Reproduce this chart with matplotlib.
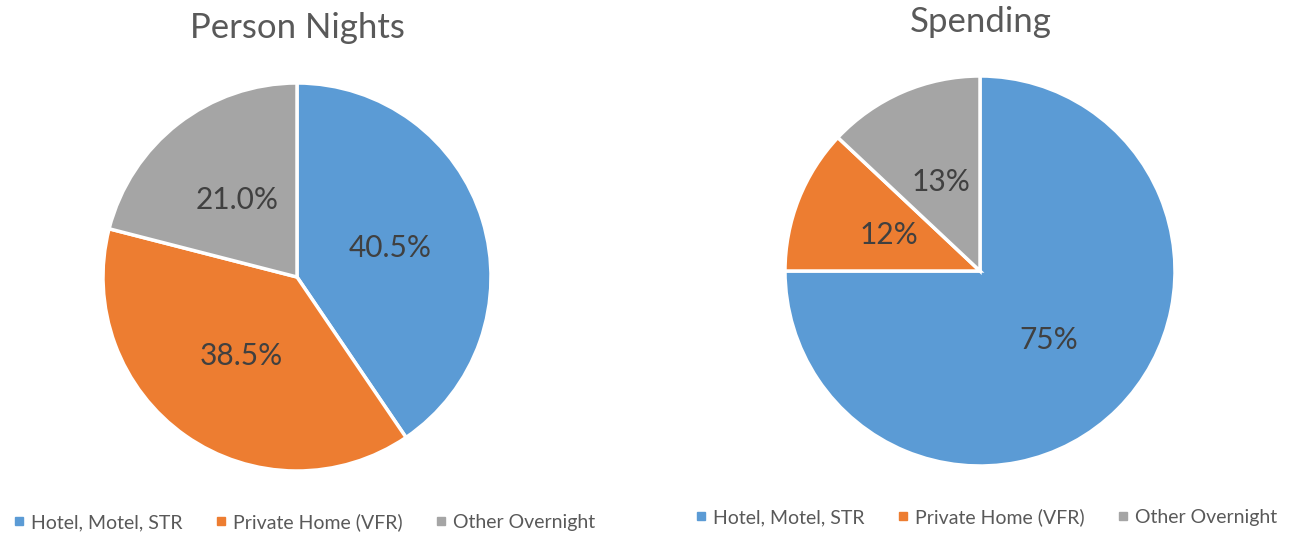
import matplotlib
matplotlib.use("Agg")
import matplotlib.pyplot as plt
from matplotlib.lines import Line2D

# data
categories = ["Hotel, Motel, STR", "Private Home (VFR)", "Other Overnight"]
nights = [40.5, 38.5, 21.0]
spending = [75, 12, 13]
titles = ["Person Nights", "Spending"]
colors = ["#5b9bd5", "#ed7d31", "#a5a5a5"]

plt.rcParams["font.family"] = ["Lato", "DejaVu Sans"]

W, H = 1293, 534
fig = plt.figure(figsize=(W / 100, H / 100), dpi=100)


def pie_axes(cx, cy, r):
    # cx, cy in pixels from top-left
    return fig.add_axes([(cx - r) / W, (H - cy - r) / H, 2 * r / W, 2 * r / H])


panels = [
    (nights, "%.1f%%", (297, 277, 194), (297, 28), (303, 522)),
    (spending, "%.0f%%", (980, 271, 195), (981, 22), (985, 517)),
]

for (vals, fmt, (cx, cy, r), (tx, ty), (lx, ly)), title in zip(panels, titles):
    ax = pie_axes(cx, cy, r)
    wedges, texts, autotexts = ax.pie(
        vals, colors=colors, startangle=90, counterclock=False,
        autopct=fmt, pctdistance=0.5, radius=1,
        wedgeprops=dict(edgecolor="white", linewidth=2.5),
        textprops=dict(color="#404040", fontsize=21.5),
    )
    ax.set_xlim(-1, 1)
    ax.set_ylim(-1, 1)
    ax.set_aspect("equal")
    ax.axis("off")

    fig.text(tx / W, 1 - ty / H, title, ha="center", va="center",
             fontsize=25, color="#595959")

    handles = [Line2D([], [], marker="s", linestyle="none", markersize=6,
                      markerfacecolor=c, markeredgecolor=c) for c in colors]
    fig.legend(handles, categories, loc="center", bbox_to_anchor=(lx / W, 1 - ly / H),
               ncol=3, frameon=False, fontsize=14, handletextpad=0.2,
               columnspacing=1.6, labelcolor="#595959", handlelength=0.8)

fig.savefig("out.png", dpi=100)
